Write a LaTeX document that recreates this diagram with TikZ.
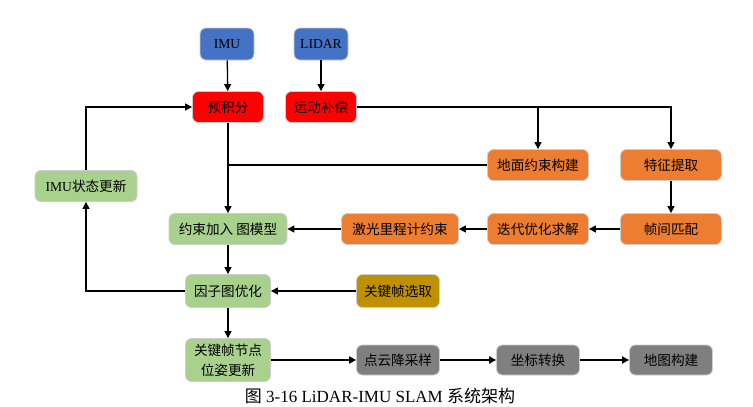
\documentclass[tikz,border=0pt]{standalone}
\usepackage{fontspec}
\setmainfont{Liberation Serif}
\newfontfamily\cjk{Noto Sans CJK SC}
\usetikzlibrary{positioning, arrows.meta, calc}
\definecolor{srcblue}{RGB}{68,114,196}
\definecolor{prered}{RGB}{255,0,0}
\definecolor{optgreen}{RGB}{169,209,142}
\definecolor{lidarorange}{RGB}{237,125,49}
\definecolor{keygold}{RGB}{191,144,0}
\definecolor{mapgray}{RGB}{127,127,127}
\definecolor{edgegray}{RGB}{205,205,205}

\begin{document}
\begin{tikzpicture}[x=1pt, y=-1pt,
    box/.style={draw=edgegray, line width=0.8pt, rounded corners=6pt, minimum height=31pt,
                inner sep=1pt, font=\fontsize{13.6}{20}\selectfont\cjk},
    srcbox/.style={box, fill=srcblue, minimum width=54pt, minimum height=32pt},
    prebox/.style={box, fill=prered, minimum width=71pt},
    greenbox/.style={box, fill=optgreen},
    orangebox/.style={box, fill=lidarorange, minimum width=101pt},
    goldbox/.style={box, fill=keygold, minimum width=83pt, minimum height=33pt},
    graybox/.style={box, fill=mapgray, minimum width=83pt, minimum height=30pt},
    link/.style={line width=1.3pt, -{Triangle[length=7pt, width=7pt]}},
    plainlink/.style={line width=1.3pt},
    thicklink/.style={line width=2.6pt, -{Triangle[length=7pt, width=7pt]}}]
    \useasboundingbox (0,0) rectangle (753,407);

    % 传感器输入
    \node[srcbox] (imu) at (227,44) {\rmfamily IMU};
    \node[srcbox] (lidar) at (321,44) {\rmfamily LIDAR};
    \node[prebox] (preint) at (228,107) {预积分};
    \node[prebox] (deskew) at (321,107) {运动补偿};

    % 激光里程计部分
    \node[orangebox] (ground) at (538,165) {地面约束构建};
    \node[orangebox] (feature) at (671,165) {特征提取};
    \node[orangebox, minimum width=117pt] (lidarodom) at (400,229) {激光里程计约束};
    \node[orangebox] (iterate) at (538,229) {迭代优化求解};
    \node[orangebox] (match) at (671,229) {帧间匹配};

    % 因子图优化部分
    \node[greenbox, minimum width=102pt] (imuupd) at (86,186) {{\rmfamily IMU}状态更新};
    \node[greenbox, minimum width=118pt] (addcons) at (228,229) {约束加入 图模型};
    \node[greenbox, minimum width=85pt, minimum height=33pt] (factor) at (228,291) {因子图优化};
    \node[goldbox] (keysel) at (398,291) {关键帧选取};
    \node[greenbox, minimum width=85pt, minimum height=43pt, align=center] (keyupd) at (228,360) {关键帧节点\\位姿更新};

    % 建图部分
    \node[graybox] (downs) at (398,360) {点云降采样};
    \node[graybox] (coord) at (538,360) {坐标转换};
    \node[graybox] (mapbuild) at (671,360) {地图构建};

    \node[font=\fontsize{17}{20}\selectfont] (caption) at (380,396)
        {{\cjk 图} 3-16 LiDAR-IMU SLAM {\cjk 系统架构}};

    % 连线
    \draw[link] (imu) -- (preint);
    \draw[link] (lidar) -- (deskew);
    \draw[link] (deskew.east) -| (feature.north);
    \coordinate (split) at (deskew.east -| ground.north);
    \draw[link] (split) -- (ground.north);
    \draw[link] (preint) -- (addcons);
    \draw[plainlink] (ground.west) -- (ground.west -| preint.south);
    \draw[link] (feature) -- (match);
    \draw[link] (match) -- (iterate);
    \draw[link] (iterate) -- (lidarodom);
    \draw[link] (lidarodom) -- (addcons);
    \draw[link] (addcons) -- (factor);
    \draw[link] (keysel) -- (factor);
    \draw[link] (factor.west) -| (imuupd.south);
    \draw[link] (imuupd.north) |- (preint.west);
    \draw[link] (factor) -- (keyupd);
    \draw[thicklink] (keyupd) -- (downs);
    \draw[thicklink] (downs) -- (coord);
    \draw[thicklink] (coord) -- (mapbuild);
\end{tikzpicture}
\end{document}
